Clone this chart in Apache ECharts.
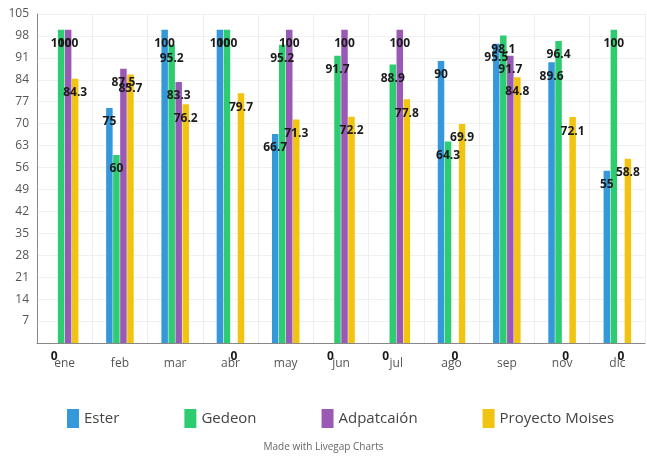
<!DOCTYPE html>
<html><head><meta charset="utf-8">
<script src="https://cdn.jsdelivr.net/npm/echarts@6/dist/echarts.min.js"></script>
<style>html,body{margin:0;padding:0;background:#fff}#c{width:647px;height:461px}</style>
</head><body><div id="c"></div>
<script>
var categories = ['ene','feb','mar','abr','may','jun','jul','ago','sep','nov','dic'];
var ester      = [0, 75, 100, 100, 66.7, 0, 0, 90, 95.5, 89.6, 55];
var gedeon     = [100, 60, 95.2, 100, 95.2, 91.7, 88.9, 64.3, 98.1, 96.4, 100];
var adaptacion = [100, 87.5, 83.3, 0, 100, 100, 100, 0, 91.7, 0, 0];
var moises     = [84.3, 85.7, 76.2, 79.7, 71.3, 72.2, 77.8, 69.9, 84.8, 72.1, 58.8];
var seriesNames = ['Ester','Gedeon','Adpatcaión','Proyecto Moises'];
var colors = ['#3498db','#2ecc71','#9b59b6','#f1c40f'];

var chart = echarts.init(document.getElementById('c'));
function mk(i, data){
  return {
    name: seriesNames[i], type:'bar', data:data, barWidth:6.5, barGap:'8%',
    itemStyle:{color:colors[i]},
    label:{show:true, position:'insideTop', distance:8, color:'#1a1a1a', fontWeight:'bold',
      fontSize:12, fontFamily:'Open Sans'}
  };
}
chart.setOption({
  animation:false,
  grid:{left:37, right:2, top:14, bottom:118},
  legend:{bottom:28, left:62, itemGap:65, itemWidth:12, itemHeight:19,
    icon:'rect',
    textStyle:{fontSize:15, color:'#444', fontFamily:'Open Sans'},
    data:seriesNames},
  title:{text:'Made with Livegap Charts', left:'center', bottom:4,
    textStyle:{fontSize:10, color:'#666', fontWeight:'normal', fontFamily:'Open Sans'}},
  xAxis:{type:'category', data:categories,
    axisLine:{lineStyle:{color:'#888'}}, axisTick:{show:false},
    axisLabel:{color:'#555', fontSize:12, margin:15, fontFamily:'Open Sans'},
    splitLine:{show:true, lineStyle:{color:'#eee'}}},
  yAxis:{type:'value', min:0, max:105, interval:7,
    axisLine:{show:true, lineStyle:{color:'#888'}},
    axisTick:{show:false},
    axisLabel:{color:'#555', fontSize:12, fontFamily:'Open Sans',
      formatter:function(v){return v===0?'':v;}},
    splitLine:{show:true, lineStyle:{color:'#f0f0f0'}}},
  series:[mk(0,ester), mk(1,gedeon), mk(2,adaptacion), mk(3,moises)]
});
</script></body></html>
